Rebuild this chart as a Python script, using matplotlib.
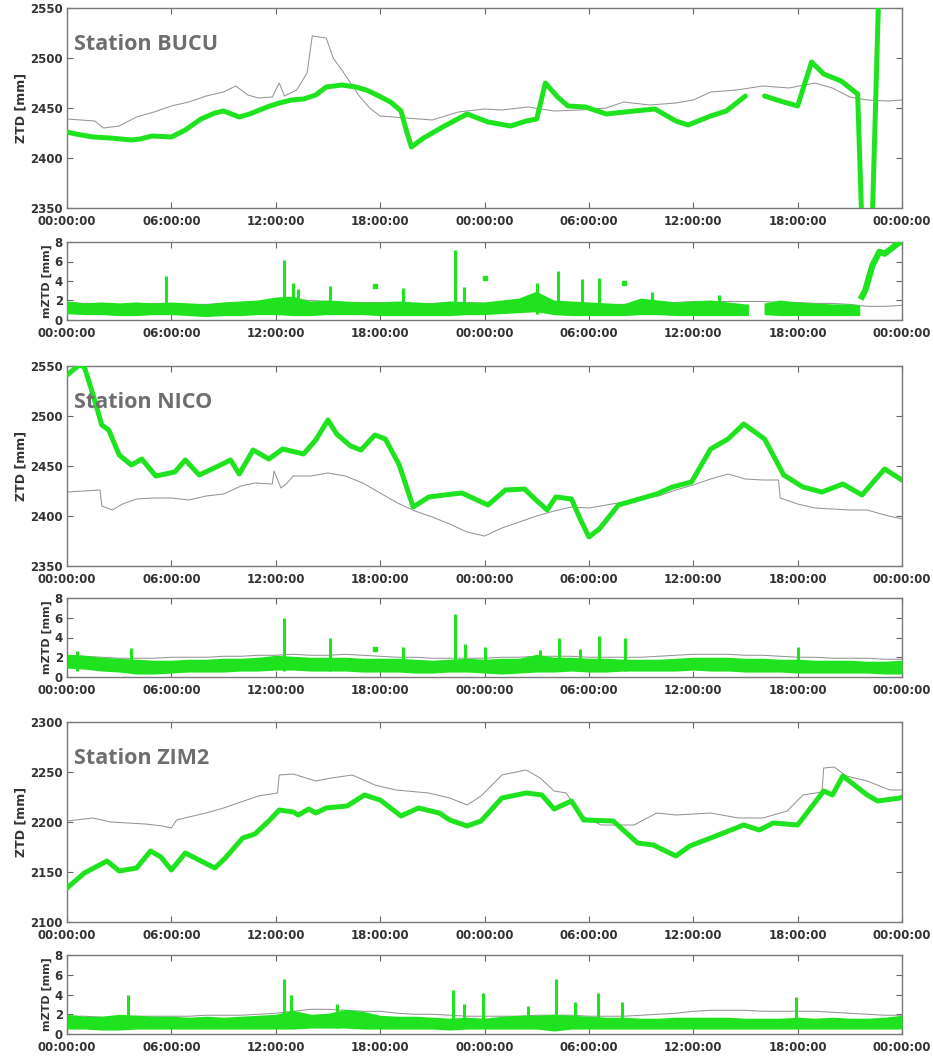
import numpy as np
import matplotlib
matplotlib.use("Agg")
import matplotlib.pyplot as plt

# --- time axis (hours from start, 2 days) ---
TICK_HOURS = [0, 6, 12, 18, 24, 30, 36, 42, 48]
TICK_LABELS = ["00:00:00", "06:00:00", "12:00:00", "18:00:00", "00:00:00",
               "06:00:00", "12:00:00", "18:00:00", "00:00:00"]
HOURS = list(range(49))
nan = np.nan

# --- BUCU ---
bucu_ztd_t = [0, 0.5, 1.5, 2.5, 3.7, 4.2, 4.9, 6.0, 6.8, 7.7, 8.5, 9.0, 9.9, 10.5, 11.5, 12.2,
              12.9, 13.6, 14.3, 14.9, 15.8, 16.6, 17.2, 17.7, 18.6, 19.2, 19.5, 19.8, 20.5, 21.7,
              23.0, 24.2, 25.5, 26.4, 27.0, 27.5, 28.2, 28.8, 29.8, 31.0, 32.6, 33.8, 35.0, 35.7,
              37.0, 37.9, 39.0, 39.5, 40.1, 41.0, 42.0, 42.8, 43.5, 44.5, 45.45, 45.85, 46.15, 46.8]
bucu_ztd = [2426, 2424, 2421, 2420, 2418, 2419, 2422, 2421, 2428, 2439, 2445, 2447, 2441, 2444,
            2451, 2455, 2458, 2459, 2463, 2471, 2473, 2471, 2468, 2464, 2456, 2447, 2428, 2411,
            2420, 2432, 2444, 2436, 2432, 2437, 2439, 2475, 2461, 2452, 2451, 2444, 2447, 2449,
            2437, 2433, 2442, 2447, 2462, nan, 2462, 2457, 2452, 2496, 2484, 2477, 2464, 2250,
            2250, 2650]
bucu_ref_t = [0, 1.6, 2.1, 3, 4, 5, 6, 7, 8, 9, 9.7, 10.4, 11, 11.8, 12.2, 12.5, 13.2, 13.8,
              14.1, 14.9, 15.3, 15.8, 16.3, 16.8, 17.4, 18, 19.5, 21, 22.5, 24, 25, 26.5, 28,
              29.5, 31, 32, 33.5, 35, 36, 37, 38.5, 40, 41.5, 43, 44, 45, 46, 47.2, 48]
bucu_ref = [2439, 2437, 2430, 2432, 2441, 2446, 2452, 2456, 2462, 2466, 2472, 2463, 2460, 2461,
            2475, 2462, 2468, 2485, 2522, 2520, 2500, 2488, 2475, 2462, 2450, 2442, 2440, 2438,
            2446, 2449, 2448, 2451, 2447, 2448, 2450, 2456, 2453, 2455, 2458, 2466, 2468, 2472,
            2470, 2475, 2470, 2461, 2458, 2457, 2458]
bucu_band_t = list(range(40)) + [39.2, 39.3, 40.1, 41, 42, 43, 44, 45, 45.6]
bucu_band_hi = [1.9, 1.7, 1.8, 1.7, 1.8, 1.7, 1.8, 1.7, 1.6, 1.8, 1.9, 2.0, 2.3, 2.4, 1.9, 2.0,
                1.9, 1.8, 1.8, 1.9, 1.8, 1.7, 1.9, 1.8, 1.8, 2.0, 2.2, 2.9, 2.0, 1.9, 1.8, 1.7,
                1.6, 2.2, 2.0, 1.8, 1.9, 2.0, 1.8, 1.6, 1.6, nan, 1.7, 2.0, 1.8, 1.7, 1.6, 1.6, 1.5]
bucu_band_lo = [0.6, 0.5, 0.5, 0.4, 0.4, 0.5, 0.5, 0.4, 0.3, 0.4, 0.4, 0.5, 0.5, 0.4, 0.4, 0.5,
                0.5, 0.5, 0.4, 0.4, 0.4, 0.4, 0.4, 0.5, 0.5, 0.6, 0.7, 0.8, 0.5, 0.4, 0.4, 0.4,
                0.4, 0.5, 0.5, 0.4, 0.4, 0.4, 0.4, 0.4, 0.4, nan, 0.5, 0.4, 0.4, 0.4, 0.4, 0.4, 0.4]
bucu_tail_t = [45.7, 45.9, 46.3, 46.7, 47.0, 47.3, 47.8, 48.0]
bucu_tail = [2.4, 3.1, 5.6, 7.0, 6.8, 7.2, 7.9, 8.0]
bucu_spike_t = [5.7, 12.5, 13.0, 13.3, 15.1, 19.3, 22.3, 22.8, 27.0, 28.2, 29.6, 30.6, 33.6, 37.5]
bucu_spike = [4.5, 6.2, 3.8, 3.2, 3.5, 3.3, 7.2, 3.4, 3.8, 5.0, 4.2, 4.3, 2.9, 2.6]
bucu_dot_t = [17.7, 24.0, 32.0]
bucu_dot = [3.5, 4.3, 3.8]
bucu_ref_m = [1.8, 1.7, 1.7, 1.6, 1.6, 1.7, 1.7, 1.6, 1.6, 1.7, 1.8, 1.9, 2.0, 2.1, 2.0, 1.9,
              1.8, 1.8, 1.8, 1.7, 1.7, 1.7, 1.8, 1.8, 1.7, 1.7, 1.8, 1.9, 1.8, 1.8, 1.7, 1.6,
              1.6, 1.7, 1.8, 1.8, 1.9, 1.9, 1.9, 1.9, 1.9, 1.8, 1.8, 1.7, 1.7, 1.6, 1.4, 1.4, 1.5]

# --- NICO ---
nico_ztd_t = [0, 0.7, 1.0, 1.5, 2.0, 2.4, 3.0, 3.7, 4.3, 5.1, 6.2, 6.8, 7.6, 8.7, 9.4, 9.9, 10.7,
              11.6, 12.4, 13.6, 14.3, 15.0, 15.5, 16.3, 16.9, 17.7, 18.3, 19.1, 19.9, 20.8, 21.7,
              22.7, 24.2, 25.2, 26.3, 26.9, 27.6, 28.1, 29.0, 29.5, 30.0, 30.6, 31.7, 32.9, 33.9,
              34.8, 35.9, 37.0, 38.0, 38.9, 40.1, 41.2, 42.3, 43.4, 44.6, 45.7, 47.0, 48.0]
nico_ztd = [2541, 2551, 2549, 2521, 2491, 2486, 2461, 2451, 2457, 2440, 2444, 2456, 2441, 2450,
            2456, 2442, 2466, 2457, 2467, 2462, 2476, 2496, 2482, 2470, 2466, 2481, 2477, 2451,
            2409, 2419, 2421, 2423, 2411, 2426, 2427, 2417, 2406, 2419, 2417, 2397, 2379, 2387,
            2411, 2417, 2422, 2429, 2434, 2467, 2477, 2492, 2477, 2441, 2429, 2424, 2432, 2421,
            2447, 2436]
nico_ref_t = [0, 1.9, 2.0, 2.6, 3.2, 4, 5, 6, 7, 8, 9, 10, 10.8, 11.8, 11.9, 12.3, 12.6, 13, 14,
              15, 16, 17, 18, 19, 20, 21, 22, 23, 24, 25, 26, 27, 28, 29, 30, 31, 32, 33, 34, 35,
              36, 37, 38, 39, 40, 40.9, 41, 42, 43, 44, 45, 46, 47, 48]
nico_ref = [2424, 2426, 2410, 2406, 2412, 2417, 2418, 2418, 2416, 2420, 2422, 2430, 2433, 2432,
            2445, 2428, 2432, 2440, 2440, 2443, 2440, 2433, 2423, 2413, 2405, 2399, 2392, 2384,
            2380, 2388, 2394, 2400, 2405, 2409, 2408, 2411, 2414, 2418, 2420, 2426, 2431, 2437,
            2442, 2437, 2436, 2436, 2418, 2412, 2408, 2407, 2406, 2406, 2401, 2397]
nico_band_hi = [2.3, 2.2, 2.0, 1.9, 1.8, 1.7, 1.7, 1.8, 1.8, 1.9, 1.9, 2.0, 2.2, 2.1, 2.0, 2.0,
                2.0, 1.9, 1.9, 1.9, 1.8, 1.7, 1.8, 1.9, 1.8, 1.9, 1.9, 2.3, 2.0, 2.0, 1.9, 1.9,
                1.8, 1.8, 1.8, 1.9, 2.0, 2.0, 2.0, 1.9, 1.9, 1.8, 1.8, 1.7, 1.7, 1.7, 1.6, 1.6, 1.7]
nico_band_lo = [0.9, 0.8, 0.6, 0.5, 0.3, 0.3, 0.4, 0.5, 0.5, 0.5, 0.6, 0.6, 0.7, 0.7, 0.6, 0.6,
                0.6, 0.5, 0.5, 0.5, 0.4, 0.4, 0.5, 0.5, 0.4, 0.3, 0.4, 0.5, 0.5, 0.6, 0.5, 0.5,
                0.6, 0.6, 0.6, 0.6, 0.7, 0.6, 0.6, 0.5, 0.5, 0.5, 0.4, 0.4, 0.4, 0.4, 0.4, 0.3, 0.3]
nico_spike_t = [0.6, 3.7, 12.5, 15.1, 19.3, 22.3, 22.9, 24.0, 27.2, 28.3, 29.5, 30.6, 32.1, 42.0]
nico_spike = [2.6, 2.9, 6.0, 4.0, 3.0, 6.4, 3.3, 3.0, 2.7, 4.0, 2.8, 4.2, 4.0, 3.0]
nico_dot_t = [17.7]
nico_dot = [2.8]
nico_ref_m = [2.2, 2.1, 2.0, 1.9, 1.9, 1.9, 2.0, 2.0, 2.0, 2.1, 2.1, 2.2, 2.2, 2.3, 2.2, 2.2,
              2.3, 2.2, 2.1, 2.0, 2.0, 1.9, 1.9, 1.9, 1.9, 2.0, 2.0, 2.1, 2.1, 2.1, 2.0, 2.0,
              2.0, 2.0, 2.1, 2.2, 2.3, 2.3, 2.3, 2.2, 2.2, 2.1, 2.0, 2.0, 1.9, 1.9, 1.9, 1.8, 1.8]

# --- ZIM2 ---
zim2_ztd_t = [0, 1.0, 2.3, 3.0, 4.0, 4.8, 5.4, 6.0, 6.8, 7.7, 8.5, 9.1, 10.1, 10.8, 11.6, 12.2,
              13.0, 13.3, 13.9, 14.3, 14.9, 16.1, 17.1, 18.0, 18.6, 19.2, 20.2, 21.4, 22.0, 23.0,
              23.8, 25.0, 26.4, 27.3, 28.0, 29.0, 29.7, 31.4, 32.8, 33.7, 35.0, 35.8, 37.0, 38.9,
              39.8, 40.6, 42.0, 43.5, 44.0, 44.6, 46.0, 46.6, 47.9, 48]
zim2_ztd = [2134, 2149, 2161, 2151, 2154, 2171, 2165, 2152, 2169, 2161, 2154, 2164, 2184, 2188,
            2201, 2212, 2210, 2207, 2213, 2209, 2214, 2216, 2227, 2222, 2214, 2206, 2214, 2209,
            2202, 2196, 2201, 2224, 2229, 2227, 2213, 2221, 2202, 2201, 2179, 2177, 2166, 2176,
            2184, 2197, 2192, 2199, 2197, 2231, 2227, 2246, 2227, 2221, 2224, 2225]
zim2_ref_t = [0, 1.5, 2.5, 3.5, 4.5, 5.5, 6.0, 6.3, 7, 8, 9, 10, 11, 12.1, 12.2, 13, 14.3, 15.2,
              16.4, 17.7, 18.9, 20.8, 22, 23, 23.8, 25, 26.4, 27.2, 28, 28.7, 29.5, 30.7, 32.6,
              33.9, 35, 37, 38.6, 40, 41.4, 42.3, 43.4, 43.5, 44.1, 44.8, 46, 47.3, 48]
zim2_ref = [2201, 2204, 2200, 2199, 2198, 2196, 2194, 2202, 2205, 2209, 2214, 2220, 2226, 2229,
            2247, 2248, 2241, 2244, 2247, 2237, 2232, 2229, 2224, 2217, 2226, 2247, 2252, 2244,
            2231, 2229, 2207, 2197, 2197, 2209, 2207, 2209, 2204, 2204, 2211, 2227, 2230, 2254,
            2255, 2246, 2241, 2232, 2232]
zim2_band_hi = [2.0, 1.8, 1.8, 2.0, 1.9, 1.8, 1.8, 1.7, 1.8, 1.7, 1.8, 1.9, 2.0, 2.4, 2.0, 2.1,
                2.5, 2.3, 1.9, 1.8, 1.8, 1.7, 1.6, 1.7, 1.6, 1.8, 1.9, 1.9, 2.0, 1.9, 1.8, 1.7,
                1.7, 1.6, 1.6, 1.7, 1.7, 1.7, 1.7, 1.6, 1.6, 1.6, 1.7, 1.6, 1.7, 1.6, 1.6, 1.7, 1.9]
zim2_band_lo = [0.5, 0.5, 0.4, 0.4, 0.5, 0.5, 0.5, 0.5, 0.5, 0.5, 0.5, 0.5, 0.5, 0.5, 0.6, 0.6,
                0.6, 0.5, 0.5, 0.5, 0.5, 0.5, 0.4, 0.5, 0.5, 0.5, 0.5, 0.5, 0.3, 0.5, 0.5, 0.5,
                0.5, 0.5, 0.5, 0.5, 0.5, 0.5, 0.5, 0.5, 0.5, 0.5, 0.5, 0.5, 0.5, 0.5, 0.5, 0.5, 0.5]
zim2_spike_t = [3.5, 12.5, 12.9, 15.5, 22.2, 22.8, 23.9, 26.5, 28.1, 29.2, 30.5, 31.9, 41.9]
zim2_spike = [3.9, 5.6, 3.9, 3.0, 4.5, 3.0, 4.2, 2.8, 5.6, 3.2, 4.2, 3.2, 3.7]
zim2_ref_m = [1.8, 1.8, 1.7, 1.7, 1.8, 1.8, 1.8, 1.8, 1.9, 1.9, 1.9, 2.0, 2.1, 2.3, 2.5, 2.5,
              2.4, 2.3, 2.3, 2.1, 2.0, 2.0, 1.9, 1.8, 1.8, 1.8, 1.8, 1.9, 1.9, 1.9, 1.8, 1.8,
              1.8, 1.9, 2.0, 2.1, 2.3, 2.4, 2.4, 2.4, 2.3, 2.3, 2.3, 2.3, 2.2, 2.1, 2.0, 1.9, 1.9]

GREEN = "#1fe31f"
GRAY = "#959595"
TXT = "#333333"

# --- layout in pixels of the 933x1059 figure (top, bottom) ---
W, H = 933, 1059
LEFT, RIGHT = 67, 902
rows = [(8, 208), (242, 320), (366, 566), (598, 677), (722, 922), (955, 1034)]

fig = plt.figure(figsize=(W / 100, H / 100), dpi=100)


def style_axes(ax, yticks, ylabel, ylabel_size):
    ax.set_xlim(0, 48)
    ax.set_xticks(TICK_HOURS)
    ax.set_xticklabels(TICK_LABELS)
    ax.set_yticks(yticks)
    ax.set_ylim(yticks[0], yticks[-1])
    ax.tick_params(direction="in", top=True, right=True, length=4, width=0.8,
                   color="#666666", labelcolor=TXT, labelsize=8.5)
    ax.tick_params(axis="x", pad=5)
    ax.tick_params(axis="y", pad=3)
    for lab in ax.get_xticklabels() + ax.get_yticklabels():
        lab.set_fontweight("bold")
    for sp in ax.spines.values():
        sp.set_color("#7a7a7a")
        sp.set_linewidth(1.0)
    ax.set_ylabel(ylabel, fontsize=ylabel_size, fontweight="bold", color=TXT, labelpad=2)


stations = [
    ("BUCU", bucu_ztd_t, bucu_ztd, bucu_ref_t, bucu_ref, [2350, 2400, 2450, 2500, 2550]),
    ("NICO", nico_ztd_t, nico_ztd, nico_ref_t, nico_ref, [2350, 2400, 2450, 2500, 2550]),
    ("ZIM2", zim2_ztd_t, zim2_ztd, zim2_ref_t, zim2_ref, [2100, 2150, 2200, 2250, 2300]),
]
bands = [
    (bucu_band_t, bucu_band_lo, bucu_band_hi, bucu_spike_t, bucu_spike, bucu_dot_t, bucu_dot, bucu_ref_m),
    (HOURS, nico_band_lo, nico_band_hi, nico_spike_t, nico_spike, nico_dot_t, nico_dot, nico_ref_m),
    (HOURS, zim2_band_lo, zim2_band_hi, zim2_spike_t, zim2_spike, [], [], zim2_ref_m),
]

for i, (name, zt, zv, rt, rv, yt) in enumerate(stations):
    top, bot = rows[2 * i]
    ax = fig.add_axes([LEFT / W, 1 - bot / H, (RIGHT - LEFT) / W, (bot - top) / H])
    ax.plot(rt, rv, color=GRAY, lw=0.75, zorder=2)
    ax.plot(zt, zv, color=GREEN, lw=3.6, solid_capstyle="round", zorder=3)
    style_axes(ax, yt, "ZTD [mm]", 9)
    ax.text(0.008, 0.815, "Station " + name, transform=ax.transAxes, fontsize=15.5,
            fontweight="bold", family="Open Sans", color="#6e6e6e", va="center", ha="left")

    bt, blo, bhi, st, sv, dt, dv, refm = bands[i]
    top, bot = rows[2 * i + 1]
    ax = fig.add_axes([LEFT / W, 1 - bot / H, (RIGHT - LEFT) / W, (bot - top) / H])
    ax.plot(HOURS, refm, color=GRAY, lw=0.75, zorder=2)
    ax.fill_between(bt, blo, bhi, color=GREEN, lw=0, zorder=3)
    ax.vlines(st, 0.6, sv, color=GREEN, lw=2.2, zorder=3)
    if dt:
        ax.plot(dt, dv, "s", color=GREEN, ms=3, zorder=3)
    if name == "BUCU":
        ax.plot(bucu_tail_t, bucu_tail, color=GREEN, lw=4.5, zorder=3)
    style_axes(ax, [0, 2, 4, 6, 8], "mZTD [mm]", 8)

fig.savefig("out.png", dpi=100, facecolor="white")
